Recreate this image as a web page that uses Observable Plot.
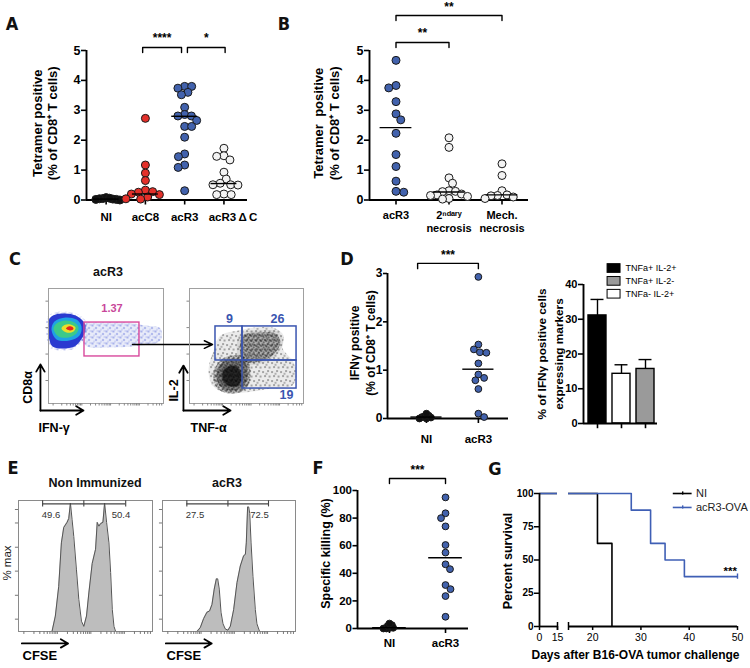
<!DOCTYPE html>
<html><head><meta charset="utf-8">
<script src="https://cdn.jsdelivr.net/npm/d3@7"></script>
<script src="https://cdn.jsdelivr.net/npm/@observablehq/plot@0.6"></script>
<style>
body{margin:0;background:#fff;}
#fig{position:relative;width:750px;height:668px;overflow:hidden;background:#fff;font-family:'Liberation Sans',Arial,Helvetica,sans-serif;}
.lbl{position:absolute;font-weight:bold;transform:translate(-50%,-50%);white-space:nowrap;font-size:12.5px;color:#111;}
.pl{position:absolute;transform:translate(-50%,-50%);font-family:'Liberation Sans Narrow','DejaVu Sans Condensed','Liberation Sans',sans-serif;font-size:18px;font-weight:bold;color:#111;}
</style></head><body>
<svg width="0" height="0" style="position:absolute">
<defs>
<pattern id="spkBlue" width="7" height="6" patternUnits="userSpaceOnUse">
<circle cx="1" cy="1" r="0.7" fill="#3a4cd0"/><circle cx="4.5" cy="3.5" r="0.7" fill="#3a4cd0"/><circle cx="2.5" cy="5" r="0.5" fill="#6a78dd"/><circle cx="6" cy="0.5" r="0.5" fill="#6a78dd"/></pattern>
<pattern id="spkSparse" width="9" height="9" patternUnits="userSpaceOnUse">
<rect x="1" y="2" width="1.1" height="1.1" fill="#000"/><rect x="6" y="1" width="1.1" height="1.1" fill="#000"/><rect x="3" y="6" width="1.1" height="1.1" fill="#000"/><rect x="7.5" y="6.5" width="1.1" height="1.1" fill="#000"/><rect x="4.5" y="3.8" width="1" height="1" fill="#000"/></pattern>
<pattern id="spkDense" width="5" height="5" patternUnits="userSpaceOnUse">
<rect x="0" y="0" width="1.3" height="1.3" fill="#000"/><rect x="2.6" y="1.2" width="1.3" height="1.3" fill="#000"/><rect x="1.2" y="3.2" width="1.3" height="1.3" fill="#000"/><rect x="3.8" y="3.9" width="1.2" height="1.2" fill="#000"/></pattern>
</defs></svg>
<div id="fig"></div>
<script>
const W=750,H=668;
const fig=document.getElementById("fig");
const FONT="'Liberation Sans', Arial, Helvetica, sans-serif";

// ================= DATA =================
// Panel A  (tetramer positive, % of CD8+ T cells)
const aGroups=["NI","acC8","acR3","acR3\u2009Δ\u2009C"];
const aNI=[0.05,0.08,0.04,0.02,0.0,0.03,0.06,0.02];
const aC8=[2.73,1.17,0.9,0.65,0.33,0.28,0.26,0.2,0.18,0.1,0.04,0.03];
const aR3=[3.8,3.8,3.74,3.6,3.52,3.1,2.86,2.81,2.81,2.66,2.46,2.46,2.1,1.54,1.45,1.17,1.09,0.31];
const aDC=[1.73,1.48,1.46,1.34,0.93,0.7,0.56,0.51,0.51,0.5,0.2,0.18,0.18];
const aCenter=[0.03,0.2,2.8,0.55];
const aTicks=[0,1,2,3,4,5];
const aSig=[{from:0.93,to:1.92,label:"****",top:5.1,end:4.93,txt:5.42},{from:2.07,to:3.03,label:"*",top:5.1,end:4.93,txt:5.42}];
// Panel B
const bGroups=["acR3","2ⁿᵈᵃʳʸ\nnecrosis","Mech.\nnecrosis"];
const bR3=[4.67,3.83,3.75,3.29,2.88,2.68,2.23,1.52,1.12,0.63,0.26,0.29];
const bSec=[2.08,1.76,0.74,0.56,0.31,0.29,0.28,0.2,0.17,0.15,0.12,0.05,0.03];
const bMech=[1.21,0.82,0.31,0.17,0.15,0.14,0.1,0.05];
const bCenter=[2.42,0.27,0.17];
const bSig=[{from:0,to:1,label:"**",top:5.27,end:5.1,txt:5.58},{from:0,to:2,label:"**",top:6.17,end:6.0,txt:6.45}];
// Panel C (flow cytometry, contour outlines, 0-100 display units)
const cBlobBlue=[[0.9,73.9],[6.1,77.4],[14.8,78.3],[23.5,76.5],[29.6,72.2],[32.2,67],[31.3,60.9],[27.8,54.8],[22.6,49.6],[12.2,47.8],[3.5,49.6],[0.9,54.8],[0,63.5]];
const cBlobCyan=[[2.6,64.3],[5.2,71.3],[14.8,74.8],[24.3,73],[28.7,67],[27,59.1],[18.3,54.8],[7,55.7]];
const cBlobGreen=[[4.3,65.2],[7,69.6],[14.8,72.2],[22.6,70.4],[26.1,66.1],[24.3,60.9],[17.4,57.4],[8.7,58.3]];
const cBlobYellow=[[11.3,65.2],[13.9,68.3],[19.1,68.7],[23.5,66.1],[21.7,62.6],[15.7,61.7]];
const cBlobRed=[[15.2,65.2],[17.4,67],[20.9,66.5],[21.7,64.8],[19.1,63.5]];
const cBand=[[27.8,68.7],[45.2,70.4],[67,70.4],[84.3,67.8],[97.4,65.2],[97.4,54.8],[80,50.4],[53.9,48.7],[32.2,50.4]];
const cGateIFN=[{x1:31.3,x2:79.1,y1:40.9,y2:70.4,label:"1.37"}];
const cCloudOuter=[[21.1,46.1],[27.2,59.1],[43,63.5],[57.9,66.1],[75.4,65.2],[82.5,59.1],[81.6,47.8],[90.4,37.4],[93.9,27],[90.4,15.7],[71.1,13],[49.1,9.6],[31.6,9.6],[20.2,15.7],[16.7,28.7]];
const cCloudMid=[[46.5,59.1],[60.5,61.7],[75.4,60.9],[79.8,53],[72.8,41.7],[57.9,35.7],[46.5,37.4]];
const cCore=[[28.9,35.7],[37.7,39.1],[47.4,37.4],[50.9,27],[48.2,15.7],[37.7,11.3],[27.2,14.8],[23.7,25.2]];
const cCoreDark=[[31.6,30.4],[40.4,32.2],[45.6,24.3],[42.1,15.7],[32.5,16.5],[28.9,23.5]];
const cQuad=[{x1:22.8,x2:46.5,y1:37.4,y2:67,label:"9",lx:35.1,ly:73.9},{x1:46.5,x2:93.9,y1:37.4,y2:67,label:"26",lx:77.2,ly:73.9},{x1:46.5,x2:93.9,y1:13,y2:37.4,label:"19",lx:85.1,ly:7}];
// Panel D
const dGroups=["NI","acR3"];
const dNI=[0.06,0.03,0.0,0.0,0.02,0.05,0.1];
const dR3=[2.93,1.53,1.43,1.37,1.36,1.14,0.91,0.84,0.79,0.61,0.10,0.03];
const dCenter=[0.03,1.02];
const dSig=[{from:-0.17,to:1.0,label:"***",top:3.21,end:3.1,txt:3.37}];
const dBarLabels=["TNFa+ IL-2+","TNFa+ IL-2-","TNFa- IL-2+"];
const dBarMean=[31.1,14.3,15.7];
const dBarSem=[4.6,2.6,2.7];
const dBarFill=["#000000","#ffffff","#9a9a9a"];
const dLegendFill=["#000000","#9a9a9a","#ffffff"];
// Panel E (CFSE histograms, % of max vs CFSE display units)
const eNonImm=[[25,0],[27.5,12],[30,35],[32,69],[33.75,81],[36.25,85],[37.5,88],[38.75,100],[40,87],[41.25,74],[43.25,48],[45,25],[47,8],[48.75,4],[50.75,12],[52.5,30],[55,53],[57.5,64],[58.75,85],[60,82],[61.25,84],[63,85],[64.25,100],[65.75,85],[67.5,69],[68.75,46],[70,17],[71.25,4],[72.5,0]];
const eAcR3=[[25.9,0],[28.4,3],[30.9,10],[33.4,15],[35.4,16],[37.2,21],[38.9,33],[40.5,41],[41.5,41],[42.7,33],[44,15],[45.5,6],[47.2,2],[49.2,1],[51,4],[53.5,17],[56,38],[58.5,51],[61,59],[62.3,60],[63,69],[64,97],[64.8,97],[65.6,92],[66.6,69],[68,43],[69.8,17],[71,6],[73,0]];
const eGateNon={x1:18,xm:48.75,x2:80,left:"49.6",right:"50.4",lx:24.3,rx:76.5};
const eGateR3={x1:18.3,xm:49.2,x2:79.7,left:"27.5",right:"72.5",lx:24.4,rx:72.9};
// Panel F
const fGroups=["NI","acR3"];
const fNI=[2.4,0.5,0.0,0.0,0.5,1.9,3.6];
const fR3=[95,83.5,80,74,60.5,55,46.5,43,31.5,28.5,23.5,8.5];
const fCenter=[0.6,51.3];
const fSig=[{from:0,to:1,label:"***",top:108.7,end:105,txt:114.5}];
// Panel G (Kaplan-Meier)
const gNI=[{d:0,s:100},{d:21,s:62.5},{d:24,s:0}];
const gR3=[{d:0,s:100},{d:28,s:87.5},{d:32,s:62.5},{d:35,s:50},{d:39,s:37.5},{d:50,s:37.5}];
const gSeries=["NI","acR3-OVA"];
const gColors=["#000000","#3f5fb5"];

// ================= HELPERS =================
function P(fr,o){
  const [x0,y0,x1,y1]=fr;
  const svg=Plot.plot(Object.assign({width:W,height:H,marginLeft:x0,marginTop:y0,marginRight:W-x1,marginBottom:H-y1,
    style:{fontFamily:FONT,fontSize:"11px",background:"transparent",overflow:"visible"}},o));
  svg.style.position="absolute";svg.style.left="0px";svg.style.top="0px";svg.style.maxWidth="none";
  fig.appendChild(svg);
}
function label(cls,text,x,y,extra){const d=document.createElement("div");d.className=cls;d.textContent=text;d.style.left=x+"px";d.style.top=y+"px";if(extra)Object.assign(d.style,extra);fig.appendChild(d);}
function swarm(vals,r,ky,f){
  const dmin=2*r*f;
  const idx=vals.map((v,i)=>i).sort((a,b)=>vals[b]-vals[a]);
  const placed=[],out=[];
  idx.forEach((i,n)=>{
    const y=vals[i]*ky;let xx=0;
    for(let k=0;k<600;k++){
      const c=k*0.25;const cands=c===0?[0]:(n%2?[c,-c]:[-c,c]);
      let ok=null;
      for(const x of cands){if(placed.every(p=>(p.x-x)**2+(p.y-y)**2>=dmin*dmin)){ok=x;break;}}
      if(ok!==null){xx=ok;break;}
    }
    placed.push({x:xx,y});out[i]=xx;
  });
  return out;
}
function groupPoints(groups,fs,r,ky,kx){
  return groups.flatMap((vals,g)=>{const off=swarm(vals,r,ky,fs[g]);return vals.map((v,j)=>({g,v,x:g+off[j]/kx}));});
}
function brackets(list){
  const pts=list.flatMap((b,k)=>[{k,x:b.from,y:b.end},{k,x:b.from,y:b.top},{k,x:b.to,y:b.top},{k,x:b.to,y:b.end}]);
  return [Plot.line(pts,{x:"x",y:"y",z:"k",strokeWidth:1.4}),
          Plot.text(list,{x:d=>(d.from+d.to)/2,y:"txt",text:"label",fontWeight:"bold",fontSize:12})];
}
function ytitle(t,dx,dy,fs,lh){
  return Plot.text([t],{text:d=>d,frameAnchor:"left",textAnchor:"middle",lineAnchor:"middle",dx,dy,rotate:-90,lineHeight:lh||1.2,fontSize:fs,fontWeight:"bold"});
}
const poly=(pts,fill,op=1)=>Plot.line(pts,{x:d=>d[0],y:d=>d[1],curve:"catmull-rom-closed",fill,fillOpacity:op,stroke:"none"});
// soft edge: same outline grown about its centroid
function grow(pts,s){const cx=d3.mean(pts,p=>p[0]),cy=d3.mean(pts,p=>p[1]);return pts.map(([x,y])=>[cx+(x-cx)*s,cy+(y-cy)*s]);}
const fmt=d=>String(d);
// decorative cytometer frame ticks (log-like decades)
const decoTicks=[];[4,29,54,79].forEach(s=>{for(let k=1;k<=9;k++){const v=s+25*Math.log10(k);if(v<99)decoTicks.push(v);}});

// ================= PANEL A =================
{
  const fr=[86,50,247,199.5],xd=[-0.5,3.6],yd=[0,5];
  const kx=(fr[2]-fr[0])/(xd[1]-xd[0]),ky=(fr[3]-fr[1])/(yd[1]-yd[0]);
  const pts=groupPoints([aNI,aC8,aR3,aDC],[0.42,0.9,0.85,0.9],4,ky,kx);
  const fills=["#111111","#e3302a","#4262ad","#f3f3f3"];
  P(fr,{x:{domain:xd,axis:null},y:{domain:yd,axis:null},color:{type:"identity"},marks:[
    Plot.ruleY([0],{x1:xd[0],x2:xd[1],strokeWidth:1.9}),
    Plot.ruleX([xd[0]],{y1:0,y2:5,strokeWidth:1.9}),
    Plot.axisY({ticks:aTicks,tickFormat:fmt,tickSize:5,tickPadding:1,label:null,fontWeight:"bold",fontSize:12.5,strokeWidth:1.6}),
    Plot.axisX({ticks:[0,1,2,3],tickFormat:i=>i<3?aGroups[i]:"",tickSize:5,tickPadding:8,label:null,fontWeight:"bold",fontSize:11.5,strokeWidth:1.6}),
    Plot.text([aGroups[3]],{text:d=>d,x:3.23,y:0,dy:17.5,fontWeight:"bold",fontSize:11.5}),
    Plot.dot(pts,{x:"x",y:"v",r:4,fill:d=>fills[d.g],stroke:"#1a1a1a",strokeWidth:1}),
    Plot.ruleY(aCenter.map((v,i)=>({i,v})),{y:"v",x1:d=>d.i-0.33,x2:d=>d.i+0.33,strokeWidth:1.4}),
    ...brackets(aSig),
    ytitle("Tetramer positive\n(% of CD8⁺ T cells)",-41.5,-2,13,1.15)
  ]});
}
// ================= PANEL B =================
{
  const fr=[369,50,528,199.5],xd=[-0.5,2.5],yd=[0,5];
  const kx=(fr[2]-fr[0])/(xd[1]-xd[0]),ky=(fr[3]-fr[1])/(yd[1]-yd[0]);
  const pts=groupPoints([bR3,bSec,bMech],[0.95,0.8,0.8],4,ky,kx);
  const fills=["#4262ad","#f3f3f3","#f3f3f3"];
  P(fr,{x:{domain:xd,axis:null},y:{domain:yd,axis:null},color:{type:"identity"},marks:[
    Plot.ruleY([0],{x1:xd[0],x2:xd[1],strokeWidth:1.9}),
    Plot.ruleX([xd[0]],{y1:0,y2:5,strokeWidth:1.9}),
    Plot.axisY({ticks:aTicks,tickFormat:fmt,tickSize:5,tickPadding:1,label:null,fontWeight:"bold",fontSize:12.5,strokeWidth:1.6}),
    Plot.axisX({ticks:[0,1,2],tickFormat:i=>bGroups[i],tickSize:5,tickPadding:5,label:null,fontWeight:"bold",fontSize:11,lineHeight:1.15,strokeWidth:1.6}),
    Plot.dot(pts,{x:"x",y:"v",r:4,fill:d=>fills[d.g],stroke:"#1a1a1a",strokeWidth:1}),
    Plot.ruleY(bCenter.map((v,i)=>({i,v})),{y:"v",x1:d=>d.i-0.3,x2:d=>d.i+0.3,strokeWidth:1.4}),
    ...brackets(bSig),
    ytitle("Tetramer  positive\n(% of CD8⁺ T cells)",-44,-2,13,1.22)
  ]});
}
// ================= PANEL C =================
{
  const fr=[48,288,163,403];
  P(fr,{x:{domain:[0,100],axis:null},y:{domain:[0,100],axis:null},marks:[
    poly(cBand,"#7080dc",0.16),poly(cBand,"url(#spkBlue)"),
    poly(grow(cBlobBlue,1.12),"url(#spkBlue)"),
    poly(cBlobBlue,"#2a3ad0"),poly(cBlobCyan,"#1fa2e4"),poly(cBlobGreen,"#3cc98a"),poly(cBlobYellow,"#eadf2a"),poly(cBlobRed,"#e3261c"),
    Plot.frame({stroke:"#a0a0a0"}),
    Plot.ruleY([20,43,66,89],{x1:0,x2:-2.2,stroke:"#888"}),
    Plot.ruleX(decoTicks,{y1:0,y2:-2.2,stroke:"#888"}),
    Plot.rect(cGateIFN,{x1:"x1",x2:"x2",y1:"y1",y2:"y2",fill:"none",stroke:"#d8489c",strokeWidth:1.4}),
    Plot.text(cGateIFN,{x:d=>(d.x1+d.x2)/2,y:82.6,text:"label",fill:"#c8479a",fontWeight:"bold",fontSize:11}),
    Plot.arrow([{x1:73,y1:51.3,x2:142.6,y2:51.3}],{x1:"x1",y1:"y1",x2:"x2",y2:"y2",strokeWidth:1.5,headLength:9,headAngle:50}),
    Plot.arrow([{x1:-7,y1:-6.1,x2:-7,y2:34},{x1:-7,y1:-6.1,x2:30.4,y2:-6.1}],{x1:"x1",y1:"y1",x2:"x2",y2:"y2",strokeWidth:1.8,headLength:7,headAngle:60}),
    Plot.text(["CD8α"],{text:d=>d,x:-17.4,y:13.9,rotate:-90,fontWeight:"bold",fontSize:12.5}),
    Plot.text(["IFN-γ"],{text:d=>d,x:-8.7,y:-21.7,textAnchor:"start",fontWeight:"bold",fontSize:12.5})
  ]});
}
{
  const fr=[189,288,303,403];
  P(fr,{x:{domain:[0,100],axis:null},y:{domain:[0,100],axis:null},marks:[
    poly(cCloudOuter,"#000",0.08),poly(cCloudOuter,"url(#spkSparse)"),
    poly(grow(cCloudMid,1.15),"#000",0.08),
    poly(cCloudMid,"url(#spkDense)"),poly(cCloudMid,"#000",0.14),
    poly(grow(cCore,1.2),"url(#spkDense)"),poly(grow(cCore,1.2),"#000",0.1),
    poly(cCore,"#000",0.35),poly(grow(cCoreDark,1.1),"#000",0.3),poly(cCoreDark,"#000",0.55),
    Plot.frame({stroke:"#a0a0a0"}),
    Plot.ruleY([20,43,66,89],{x1:0,x2:-2.2,stroke:"#888"}),
    Plot.ruleX(decoTicks,{y1:0,y2:-2.2,stroke:"#888"}),
    Plot.rect(cQuad,{x1:"x1",x2:"x2",y1:"y1",y2:"y2",fill:"none",stroke:"#3a55b0",strokeWidth:1.5}),
    Plot.text(cQuad,{x:"lx",y:"ly",text:"label",fill:"#3a55b0",fontWeight:"bold",fontSize:12.5}),
    Plot.arrow([{x1:-5.3,y1:-6.1,x2:-5.3,y2:33},{x1:-5.3,y1:-6.1,x2:36,y2:-6.1}],{x1:"x1",y1:"y1",x2:"x2",y2:"y2",strokeWidth:1.8,headLength:7,headAngle:60}),
    Plot.text(["IL-2"],{text:d=>d,x:-14,y:11.3,rotate:-90,fontWeight:"bold",fontSize:12.5}),
    Plot.text(["TNF-α"],{text:d=>d,x:0.9,y:-21.7,textAnchor:"start",fontWeight:"bold",fontSize:12.5})
  ]});
}
// ================= PANEL D (left) =================
{
  const fr=[387,273,508,418],xd=[-0.75,1.58],yd=[0,3];
  const kx=(fr[2]-fr[0])/(xd[1]-xd[0]),ky=(fr[3]-fr[1])/(yd[1]-yd[0]);
  const pts=groupPoints([dNI,dR3],[0.42,0.95],3.4,ky,kx);
  const fills=["#111111","#4262ad"];
  P(fr,{x:{domain:xd,axis:null},y:{domain:yd,axis:null},color:{type:"identity"},marks:[
    Plot.ruleY([0],{x1:xd[0],x2:xd[1],strokeWidth:1.9}),
    Plot.ruleX([xd[0]],{y1:0,y2:3,strokeWidth:1.9}),
    Plot.axisY({ticks:[0,1,2,3],tickFormat:fmt,tickSize:4,tickPadding:1,label:null,fontWeight:"bold",fontSize:12,strokeWidth:1.6}),
    Plot.axisX({ticks:[0,1],tickFormat:i=>dGroups[i],tickSize:5,tickPadding:11,label:null,fontWeight:"bold",fontSize:11.5,strokeWidth:1.6}),
    Plot.dot(pts,{x:"x",y:"v",r:3.4,fill:d=>fills[d.g],stroke:"#1a1a1a",strokeWidth:1}),
    Plot.ruleY(dCenter.map((v,i)=>({i,v})),{y:"v",x1:d=>d.i-0.3,x2:d=>d.i+0.3,strokeWidth:1.4}),
    ...brackets(dSig),
    ytitle("IFNγ positive\n(% of CD8⁺ T cells)",-26,-3,12,1.33)
  ]});
}
// ================= PANEL D (right) =================
{
  const fr=[583,284,657,423],xd=[-0.583,2.5],yd=[0,40];
  const bars=dBarMean.map((m,i)=>({i,m,e:dBarSem[i],fill:dBarFill[i]}));
  const leg=dBarLabels.map((t,i)=>({t,fill:dLegendFill[i],yc:[44.6,40.9,37.2][i]}));
  P(fr,{x:{domain:xd,axis:null},y:{domain:yd,axis:null},color:{type:"identity"},marks:[
    Plot.ruleX(bars,{x:"i",y1:"m",y2:d=>d.m+d.e,strokeWidth:1.4}),
    Plot.ruleY(bars,{y:d=>d.m+d.e,x1:d=>d.i-0.27,x2:d=>d.i+0.27,strokeWidth:1.4}),
    Plot.rectY(bars,{x1:d=>d.i-0.375,x2:d=>d.i+0.375,y:"m",fill:"fill",stroke:"#000",strokeWidth:1.4}),
    Plot.ruleY([0],{x1:xd[0],x2:xd[1],strokeWidth:1.9}),
    Plot.ruleX([xd[0]],{y1:0,y2:40,strokeWidth:1.9}),
    Plot.ruleX([0,1,2],{y1:0,y2:-1.5,strokeWidth:1.6}),
    Plot.axisY({ticks:[0,10,20,30,40],tickFormat:fmt,tickSize:5,tickPadding:1,label:null,fontWeight:"bold",fontSize:11,strokeWidth:1.6}),
    Plot.rect(leg,{x1:0.42,x2:0.96,y1:d=>d.yc-1.25,y2:d=>d.yc+1.25,fill:"fill",stroke:"#000",strokeWidth:1}),
    Plot.text(leg,{x:1.17,y:"yc",text:"t",textAnchor:"start",fontSize:9,fontWeight:"normal"}),
    ytitle("% of IFNγ positive cells\nexpressing markers",-34.5,0,11.8,1.45)
  ]});
}
// ================= PANEL E =================
function histo(fr,data,g,extra){
  P(fr,{x:{domain:[0,100],axis:null},y:{domain:[0,102],axis:null},marks:[
    Plot.areaY(data,{x:d=>d[0],y:d=>d[1],fill:"#bdbdbd"}),
    Plot.lineY(data,{x:d=>d[0],y:d=>d[1],stroke:"#555",strokeWidth:1}),
    Plot.frame({stroke:"#8a8a8a"}),
    Plot.ruleY([95,84.5,65.6,47,28.2,9.6],{x1:0,x2:-2.3,stroke:"#777"}),
    Plot.ruleX(decoTicks,{y1:0,y2:-2.3,stroke:"#777"}),
    Plot.ruleY([99.4],{x1:g.x1,x2:g.x2,stroke:"#444",strokeWidth:1.1}),
    Plot.ruleX([g.x1,g.xm,g.x2],{y1:97,y2:101.8,stroke:"#444",strokeWidth:1.1}),
    Plot.text([g.left],{text:d=>d,x:g.lx,y:91,fontSize:9.5,fill:"#333",fontWeight:"normal"}),
    Plot.text([g.right],{text:d=>d,x:g.rx,y:91,fontSize:9.5,fill:"#333",fontWeight:"normal"}),
    Plot.arrow([{x1:2.5,y1:-9.3,x2:37,y2:-9.3}],{x1:"x1",y1:"y1",x2:"x2",y2:"y2",strokeWidth:1.8,headLength:7,headAngle:60}),
    Plot.text(["CFSE"],{text:d=>d,x:3,y:-18.7,textAnchor:"start",fontWeight:"bold",fontSize:13}),
    ...(extra||[])
  ]});
}
histo([18,500,152,631],eNonImm,eGateNon,[
  Plot.text(["% max"],{text:d=>d,frameAnchor:"left",textAnchor:"middle",dx:-11,dy:-3,rotate:-90,fontSize:11.5,fill:"#222"})]);
histo([162,500,295,631],eAcR3,eGateR3);
// ================= PANEL F =================
{
  const fr=[357,490,468,628],xd=[-0.57,1.41],yd=[0,100];
  const kx=(fr[2]-fr[0])/(xd[1]-xd[0]),ky=(fr[3]-fr[1])/(yd[1]-yd[0]);
  const pts=groupPoints([fNI,fR3],[0.42,0.95],3.4,ky,kx);
  const fills=["#111111","#4262ad"];
  P(fr,{x:{domain:xd,axis:null},y:{domain:yd,axis:null},color:{type:"identity"},marks:[
    Plot.ruleY([0],{x1:xd[0],x2:xd[1],strokeWidth:1.9}),
    Plot.ruleX([xd[0]],{y1:0,y2:100,strokeWidth:1.9}),
    Plot.axisY({ticks:[0,20,40,60,80,100],tickFormat:fmt,tickSize:4.5,tickPadding:1,label:null,fontWeight:"bold",fontSize:11.5,strokeWidth:1.6}),
    Plot.axisX({ticks:[0,1],tickFormat:i=>fGroups[i],tickSize:5,tickPadding:5,label:null,fontWeight:"bold",fontSize:11.5,strokeWidth:1.6}),
    Plot.dot(pts,{x:"x",y:"v",r:3.4,fill:d=>fills[d.g],stroke:"#1a1a1a",strokeWidth:1}),
    Plot.ruleY(fCenter.map((v,i)=>({i,v})),{y:"v",x1:d=>d.i-0.3,x2:d=>d.i+0.3,strokeWidth:1.4}),
    ...brackets(fSig),
    ytitle("Specific killing (%)",-32,-6,12.5,1.2)
  ]});
}
// ================= PANEL G =================
{
  const yopt={domain:[0,100],insetTop:2,axis:null};
  const lines=(clip)=>[
    Plot.line(gNI,{x:"d",y:"s",curve:"step-after",stroke:gColors[0],strokeWidth:1.6,clip}),
    Plot.line(gR3,{x:"d",y:"s",curve:"step-after",stroke:gColors[1],strokeWidth:1.6,clip})];
  P([539,491,557,626],{x:{domain:[0,15],axis:null},y:yopt,marks:[
    ...lines(true),
    Plot.ruleY([0],{x1:0,x2:15,strokeWidth:1.8}),
    Plot.ruleX([0],{y1:0,y2:100,strokeWidth:1.8}),
    Plot.ruleX([15],{y1:-3,y2:3,strokeWidth:1.5}),
    Plot.axisY({ticks:[0,25,50,75,100],tickFormat:fmt,tickSize:5,tickPadding:1,label:null,fontWeight:"bold",fontSize:10,strokeWidth:1.5}),
    Plot.axisX({ticks:[0,15],tickFormat:fmt,tickSize:4,tickPadding:3,label:null,fontWeight:"normal",fontSize:10.5,strokeWidth:1.5}),
    ytitle("Percent survival",-32,2,12.5,1.2)
  ]});
  const leg=gSeries.map((t,i)=>({t,c:gColors[i],y:[100,89.5][i]}));
  P([568,491,737,626],{x:{domain:[15,50],axis:null},y:yopt,color:{type:"identity"},marks:[
    ...lines(true),
    Plot.ruleY([0],{x1:15,x2:50,strokeWidth:1.8}),
    Plot.ruleX([15],{y1:-3,y2:3,strokeWidth:1.5}),
    Plot.ruleX([50],{y1:35.5,y2:39.5,stroke:gColors[1],strokeWidth:1.4}),
    Plot.axisX({ticks:[20,30,40,50],tickFormat:fmt,tickSize:4,tickPadding:3,label:null,fontWeight:"normal",fontSize:10.5,strokeWidth:1.5}),
    Plot.ruleY(leg,{y:"y",x1:36.7,x2:40.6,stroke:"c",strokeWidth:1.6}),
    Plot.ruleX(leg,{x:38.65,y1:d=>d.y-1.2,y2:d=>d.y+1.2,stroke:"c",strokeWidth:1.4}),
    Plot.text(leg,{x:41.4,y:"y",text:"t",textAnchor:"start",fontSize:11,fill:"#222"}),
    Plot.text(["***"],{text:d=>d,x:48.5,y:41.4,fontSize:11.5,fontWeight:"bold"}),
    Plot.text(["Days after B16-OVA tumor challenge"],{text:d=>d,frameAnchor:"bottom",dx:-17.5,dy:32,fontSize:12,fontWeight:"bold"})
  ]});
}
// ================= TEXT LABELS =================
[["A",12,23],["B",284,23],["C",15,258],["D",347,258],["E",13,467],["F",318,467],["G",495,468]].forEach(([t,x,y])=>label("pl",t,x,y));
label("lbl","acR3",108,272);
label("lbl","Non Immunized",95,483);
label("lbl","acR3",227,483);
</script></body></html>
